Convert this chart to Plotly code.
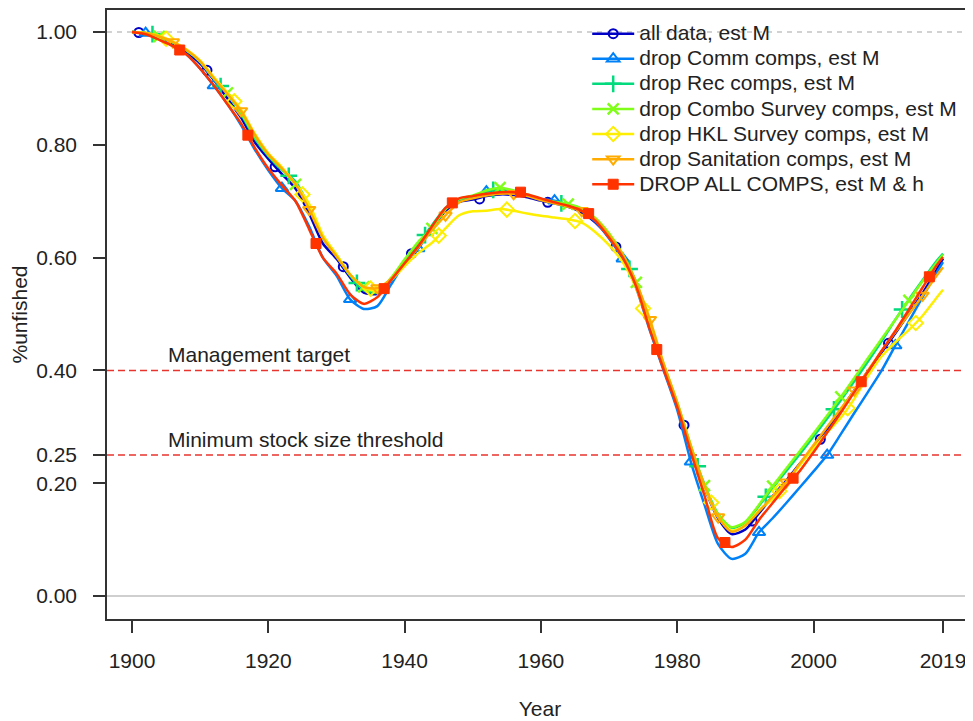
import plotly.graph_objects as go

# ---------------- data ----------------
# line values on a 2-year grid (1900..2018) plus the final year 2019
YEARS = list(range(1900, 2019, 2)) + [2019]

ALL_DATA = [1.000, 0.997, 0.989, 0.977, 0.963, 0.944, 0.915, 0.882, 0.848, 0.805,
            0.775, 0.748, 0.722, 0.678, 0.625, 0.598, 0.565, 0.538, 0.536, 0.560,
            0.592, 0.622, 0.652, 0.683, 0.699, 0.703, 0.709, 0.712, 0.711, 0.707,
            0.701, 0.696, 0.690, 0.680, 0.662, 0.636, 0.600, 0.550, 0.476, 0.405,
            0.338, 0.262, 0.192, 0.138, 0.110, 0.118, 0.147, 0.177, 0.205, 0.235,
            0.263, 0.295, 0.330, 0.365, 0.399, 0.432, 0.466, 0.501, 0.537, 0.577,
            0.598]
DROP_COMM = [1.000, 0.998, 0.988, 0.975, 0.960, 0.935, 0.905, 0.872, 0.835, 0.792,
             0.755, 0.723, 0.700, 0.655, 0.600, 0.568, 0.526, 0.509, 0.514, 0.552,
             0.590, 0.616, 0.652, 0.686, 0.701, 0.707, 0.717, 0.718, 0.715, 0.710,
             0.704, 0.701, 0.693, 0.683, 0.664, 0.634, 0.598, 0.545, 0.470, 0.400,
             0.330, 0.238, 0.162, 0.092, 0.066, 0.075, 0.113, 0.138, 0.165, 0.193,
             0.221, 0.250, 0.287, 0.325, 0.362, 0.400, 0.444, 0.487, 0.530, 0.572,
             0.592]
DROP_REC = [1.000, 0.998, 0.992, 0.981, 0.967, 0.947, 0.917, 0.890, 0.855, 0.812,
            0.780, 0.755, 0.735, 0.690, 0.635, 0.603, 0.568, 0.542, 0.538, 0.562,
            0.595, 0.625, 0.657, 0.688, 0.703, 0.708, 0.717, 0.722, 0.718, 0.711,
            0.703, 0.698, 0.694, 0.686, 0.669, 0.641, 0.604, 0.556, 0.482, 0.410,
            0.342, 0.265, 0.198, 0.145, 0.121, 0.130, 0.160, 0.192, 0.222, 0.252,
            0.283, 0.315, 0.347, 0.381, 0.416, 0.452, 0.490, 0.526, 0.560, 0.593,
            0.607]
DROP_COMBO = [1.000, 0.998, 0.992, 0.982, 0.968, 0.948, 0.918, 0.892, 0.857, 0.815,
              0.782, 0.757, 0.730, 0.692, 0.638, 0.605, 0.570, 0.548, 0.540, 0.564,
              0.597, 0.628, 0.652, 0.686, 0.704, 0.710, 0.719, 0.724, 0.719, 0.712,
              0.704, 0.699, 0.695, 0.687, 0.670, 0.643, 0.606, 0.556, 0.484, 0.412,
              0.344, 0.267, 0.196, 0.145, 0.122, 0.132, 0.162, 0.195, 0.226, 0.257,
              0.288, 0.320, 0.353, 0.387, 0.422, 0.456, 0.490, 0.524, 0.558, 0.590,
              0.605]
DROP_HKL = [1.000, 0.998, 0.993, 0.983, 0.969, 0.949, 0.920, 0.892, 0.862, 0.820,
            0.785, 0.760, 0.730, 0.695, 0.640, 0.605, 0.570, 0.547, 0.542, 0.560,
            0.585, 0.608, 0.626, 0.652, 0.675, 0.682, 0.683, 0.686, 0.683, 0.678,
            0.674, 0.671, 0.668, 0.662, 0.645, 0.622, 0.592, 0.545, 0.476, 0.405,
            0.338, 0.262, 0.193, 0.140, 0.116, 0.126, 0.152, 0.172, 0.200, 0.232,
            0.262, 0.290, 0.316, 0.350, 0.390, 0.425, 0.450, 0.472, 0.497, 0.528,
            0.543]
DROP_SAN = [1.000, 0.998, 0.992, 0.982, 0.968, 0.948, 0.918, 0.890, 0.860, 0.818,
            0.783, 0.758, 0.730, 0.685, 0.635, 0.602, 0.570, 0.548, 0.546, 0.562,
            0.590, 0.618, 0.648, 0.675, 0.698, 0.705, 0.710, 0.713, 0.713, 0.709,
            0.702, 0.696, 0.690, 0.683, 0.668, 0.640, 0.605, 0.555, 0.490, 0.412,
            0.342, 0.265, 0.196, 0.140, 0.114, 0.125, 0.150, 0.177, 0.202, 0.235,
            0.268, 0.300, 0.332, 0.365, 0.400, 0.435, 0.468, 0.500, 0.533, 0.567,
            0.583]
DROP_ALL = [1.000, 0.996, 0.986, 0.975, 0.960, 0.935, 0.905, 0.872, 0.838, 0.795,
            0.758, 0.728, 0.700, 0.650, 0.600, 0.572, 0.535, 0.518, 0.530, 0.560,
            0.590, 0.620, 0.655, 0.688, 0.705, 0.709, 0.713, 0.716, 0.716, 0.712,
            0.705, 0.698, 0.692, 0.683, 0.665, 0.635, 0.600, 0.548, 0.472, 0.402,
            0.335, 0.255, 0.178, 0.102, 0.087, 0.100, 0.135, 0.165, 0.195, 0.222,
            0.255, 0.290, 0.325, 0.362, 0.398, 0.435, 0.470, 0.508, 0.547, 0.585,
            0.601]

# point markers (every 10 years, staggered start year per model)
MARKER_START = [1901, 1902, 1903, 1904, 1905, 1906, 1907]
MK_ALL_DATA = [0.999, 0.932, 0.761, 0.584, 0.607, 0.704, 0.698, 0.619, 0.303, 0.133, 0.278, 0.448]
MK_DROP_COMM = [0.998, 0.905, 0.723, 0.526, 0.616, 0.717, 0.701, 0.598, 0.238, 0.113, 0.250, 0.444]
MK_DROP_REC = [0.996, 0.904, 0.745, 0.555, 0.640, 0.720, 0.696, 0.580, 0.230, 0.176, 0.331, 0.508]
MK_DROP_COMBO = [0.992, 0.892, 0.730, 0.548, 0.652, 0.724, 0.695, 0.556, 0.196, 0.195, 0.353, 0.524]
MK_DROP_HKL = [0.988, 0.877, 0.712, 0.545, 0.639, 0.685, 0.665, 0.510, 0.166, 0.186, 0.333, 0.484]
MK_DROP_SAN = [0.982, 0.860, 0.685, 0.546, 0.675, 0.713, 0.683, 0.490, 0.140, 0.202, 0.365, 0.533]
MK_DROP_ALL = [0.968, 0.817, 0.625, 0.545, 0.697, 0.716, 0.678, 0.437, 0.095, 0.209, 0.380, 0.566]

NAMES = ["all data, est M", "drop Comm comps, est M", "drop Rec comps, est M",
         "drop Combo Survey comps, est M", "drop HKL Survey comps, est M",
         "drop Sanitation comps, est M", "DROP ALL COMPS, est M & h"]

X_TICKS = [1900, 1920, 1940, 1960, 1980, 2000, 2019]
Y_TICKS = [0.0, 0.2, 0.25, 0.4, 0.6, 0.8, 1.0]
REF_LINES = [0.40, 0.25]
REF_LABELS = ["Management target", "Minimum stock size threshold"]

# ---------------- style ----------------
COLORS = ["#0000C6", "#0081F8", "#02DA7D", "#80FE1A", "#FDEE02", "#FFAB00", "#FF3300"]
SYMBOLS = ["circle-open", "triangle-up-open", "cross-thin-open", "x-thin-open",
           "diamond-open", "triangle-down-open", "square"]
SIZES = [9, 11, 12, 11, 11, 11, 10]
MLW = [2, 2, 2.5, 2.5, 2, 2, 1]
FONT = "Liberation Sans, Arial, sans-serif"
TXT = "#222222"

series = [ALL_DATA, DROP_COMM, DROP_REC, DROP_COMBO, DROP_HKL, DROP_SAN, DROP_ALL]
marks = [MK_ALL_DATA, MK_DROP_COMM, MK_DROP_REC, MK_DROP_COMBO, MK_DROP_HKL, MK_DROP_SAN, MK_DROP_ALL]

fig = go.Figure()

# reference lines
fig.add_hline(y=1.0, line=dict(color="#c4c4c4", width=1.5, dash="5px,5px"), layer="below")
fig.add_hline(y=0.0, line=dict(color="#cfcfcf", width=2), layer="below")
for yv, lab in zip(REF_LINES, REF_LABELS):
    fig.add_hline(y=yv, line=dict(color="#e8342e", width=1.5, dash="7px,4px"), layer="below")
    fig.add_annotation(x=1905, y=yv, text=lab, showarrow=False, xanchor="left",
                       yanchor="middle", yshift=16,
                       font=dict(family=FONT, size=21, color=TXT))

for i, (vals, mk) in enumerate(zip(series, marks)):
    col = COLORS[i]
    sym = SYMBOLS[i]
    mline = dict(color=col, width=MLW[i])
    fig.add_trace(go.Scatter(x=YEARS, y=vals, mode="lines",
                             line=dict(color=col, width=2.5, shape="spline", smoothing=0.7),
                             showlegend=False, hoverinfo="skip"))
    myears = [MARKER_START[i] + 10 * k for k in range(len(mk))]
    fig.add_trace(go.Scatter(x=myears, y=mk, mode="markers",
                             marker=dict(symbol=sym, size=SIZES[i], color=col, line=mline),
                             showlegend=False))
    # legend entry
    fig.add_trace(go.Scatter(x=[None], y=[None], mode="lines+markers",
                             name='<span style="font-size:21px">' + NAMES[i] + "</span>",
                             line=dict(color=col, width=2.5),
                             marker=dict(symbol=sym, size=SIZES[i], color=col, line=mline)))

# page body has an 8px default margin, so the figure is 8px smaller than the window
fig.update_layout(
    width=965, height=713,
    margin=dict(l=99, r=0, t=0, b=102),
    paper_bgcolor="white", plot_bgcolor="white",
    font=dict(family=FONT, size=21, color=TXT),
    showlegend=True,
    legend=dict(x=0.5545, y=0.99, xanchor="left", yanchor="top",
                bgcolor="rgba(0,0,0,0)", borderwidth=0,
                font=dict(family=FONT, size=17, color=TXT),
                itemwidth=42, tracegroupgap=0),
)
fig.update_xaxes(range=[1896.33, 2023.4], tickmode="array", tickvals=X_TICKS,
                 ticktext=[str(v) for v in X_TICKS],
                 ticks="outside", ticklen=12, tickwidth=1.5, tickcolor="#333",
                 showline=True, linecolor="#333", linewidth=1.5, mirror=True,
                 showgrid=False, zeroline=False, ticklabelstandoff=10,
                 title=dict(text="Year", standoff=30, font=dict(size=21)))
fig.update_yaxes(range=[-0.0406, 1.0389], tickmode="array", tickvals=Y_TICKS,
                 ticktext=["%.2f" % v for v in Y_TICKS],
                 ticks="outside", ticklen=12, tickwidth=1.5, tickcolor="#333",
                 showline=True, linecolor="#333", linewidth=1.5, mirror=False,
                 showgrid=False, zeroline=False, ticklabelstandoff=12,
                 title=dict(text="%unfished", standoff=4, font=dict(size=21)))

fig.write_html("out.html")
